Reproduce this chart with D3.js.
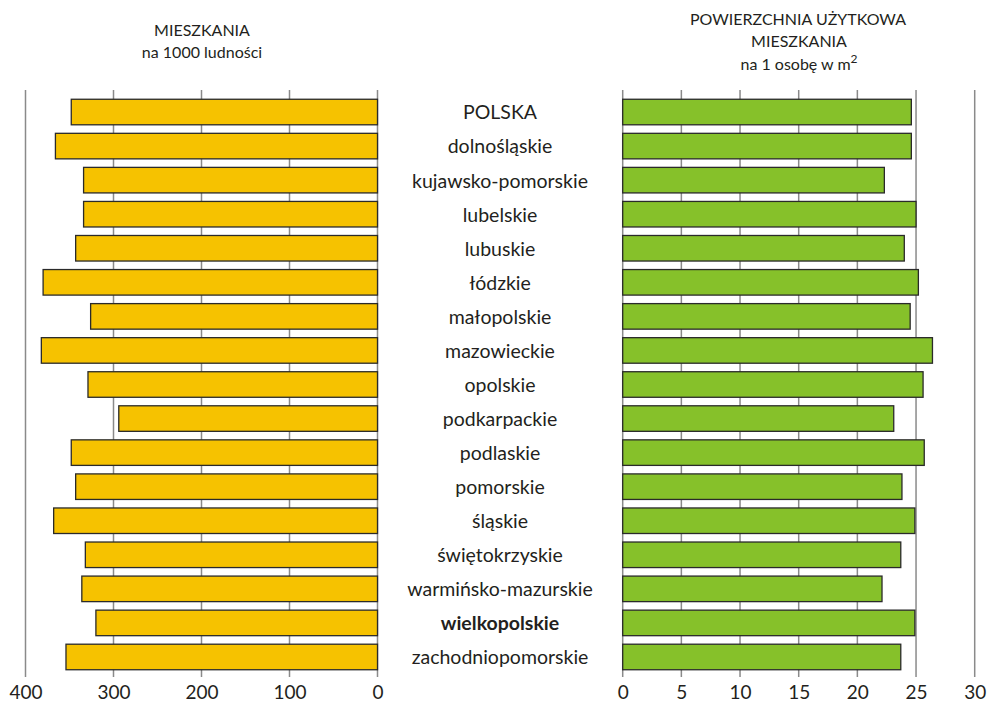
<!DOCTYPE html>
<html>
<head>
<meta charset="utf-8">
<script src="https://cdn.jsdelivr.net/npm/d3@7"></script>
<style>
  body { margin: 0; background: #fff; }
  svg text { font-family: Lato, "Open Sans", sans-serif; fill: #231f20; }
</style>
</head>
<body>
<div id="chart"></div>
<script>
// voivodeships (top to bottom)
var regions = ["POLSKA", "dolnośląskie", "kujawsko-pomorskie", "lubelskie", "lubuskie",
  "łódzkie", "małopolskie", "mazowieckie", "opolskie", "podkarpackie", "podlaskie",
  "pomorskie", "śląskie", "świętokrzyskie", "warmińsko-mazurskie", "wielkopolskie",
  "zachodniopomorskie"];
// mieszkania na 1000 ludnosci
var flats = [348, 366, 334, 334, 343, 380, 326, 382, 329, 294, 348, 343, 368, 332, 336, 320, 354];
// powierzchnia uzytkowa na 1 osobe w m2
var area = [24.6, 24.6, 22.3, 25.0, 24.0, 25.2, 24.5, 26.4, 25.6, 23.1, 25.7, 23.8, 24.9, 23.7, 22.1, 24.9, 23.7];
var leftTicks = [0, 100, 200, 300, 400];
var rightTicks = [0, 5, 10, 15, 20, 25, 30];
var bold = "wielkopolskie";

var W = 990, H = 705;
var plotTop = 95, plotBottom = 674;

var svg = d3.select("#chart").append("svg")
  .attr("width", W).attr("height", H);

var y = d3.scaleBand().domain(regions).range([plotTop, plotBottom]).paddingInner(0.25).paddingOuter(0.125);
var xl = d3.scaleLinear().domain([0, 400]).range([377.5, 25.5]);
var xr = d3.scaleLinear().domain([0, 30]).range([622.7, 974.7]);

// gridlines
svg.append("g").selectAll("line").data(leftTicks).enter().append("line")
  .attr("x1", function(d) { return xl(d); }).attr("x2", function(d) { return xl(d); })
  .attr("y1", 90).attr("y2", 677)
  .attr("stroke", "#8a8a8a").attr("stroke-width", 1.5);
svg.append("g").selectAll("line").data(rightTicks).enter().append("line")
  .attr("x1", function(d) { return xr(d); }).attr("x2", function(d) { return xr(d); })
  .attr("y1", 90).attr("y2", 677)
  .attr("stroke", "#8a8a8a").attr("stroke-width", 1.5);

// bars
svg.append("g").selectAll("rect").data(flats).enter().append("rect")
  .attr("x", function(d) { return xl(d); })
  .attr("y", function(d, i) { return y(regions[i]); })
  .attr("width", function(d) { return xl(0) - xl(d); })
  .attr("height", y.bandwidth())
  .attr("fill", "#f6c200").attr("stroke", "#2a2a2a").attr("stroke-width", 1.3);

svg.append("g").selectAll("rect").data(area).enter().append("rect")
  .attr("x", xr(0))
  .attr("y", function(d, i) { return y(regions[i]); })
  .attr("width", function(d) { return xr(d) - xr(0); })
  .attr("height", y.bandwidth())
  .attr("fill", "#86c12a").attr("stroke", "#2a2a2a").attr("stroke-width", 1.3);

// category labels
svg.append("g").selectAll("text").data(regions).enter().append("text")
  .attr("x", 500)
  .attr("y", function(d) { return y(d) + y.bandwidth() / 2; })
  .attr("dy", "0.38em")
  .attr("text-anchor", "middle")
  .attr("font-size", 19.5)
  .attr("font-weight", function(d) { return d == bold ? "bold" : "normal"; })
  .text(function(d) { return d; });

// axes
var axL = d3.axisBottom(xl).tickValues(leftTicks).tickSize(0).tickPadding(0);
var gL = svg.append("g").attr("transform", "translate(0,685)").call(axL);
var axR = d3.axisBottom(xr).tickValues(rightTicks).tickSize(0).tickPadding(0);
var gR = svg.append("g").attr("transform", "translate(0,685)").call(axR);
[gL, gR].forEach(function(g) {
  g.select(".domain").remove();
  g.selectAll("text").attr("font-size", 19).attr("font-family", null).attr("fill", "#231f20").attr("dy", "0.75em");
});

// titles
var t1 = svg.append("text").attr("text-anchor", "middle").attr("font-size", 16);
t1.append("tspan").attr("x", 202).attr("y", 36).text("MIESZKANIA");
t1.append("tspan").attr("x", 202).attr("y", 58).text("na 1000 ludności");

var t2 = svg.append("text").attr("text-anchor", "middle").attr("font-size", 16);
t2.append("tspan").attr("x", 798).attr("y", 25).text("POWIERZCHNIA UŻYTKOWA");
t2.append("tspan").attr("x", 799).attr("y", 47).text("MIESZKANIA");
var t3 = svg.append("text").attr("text-anchor", "middle").attr("font-size", 16).attr("x", 799).attr("y", 70);
t3.append("tspan").text("na 1 osobę w m");
t3.append("tspan").attr("dy", -7).attr("font-size", 12).text("2");
</script>
</body>
</html>
